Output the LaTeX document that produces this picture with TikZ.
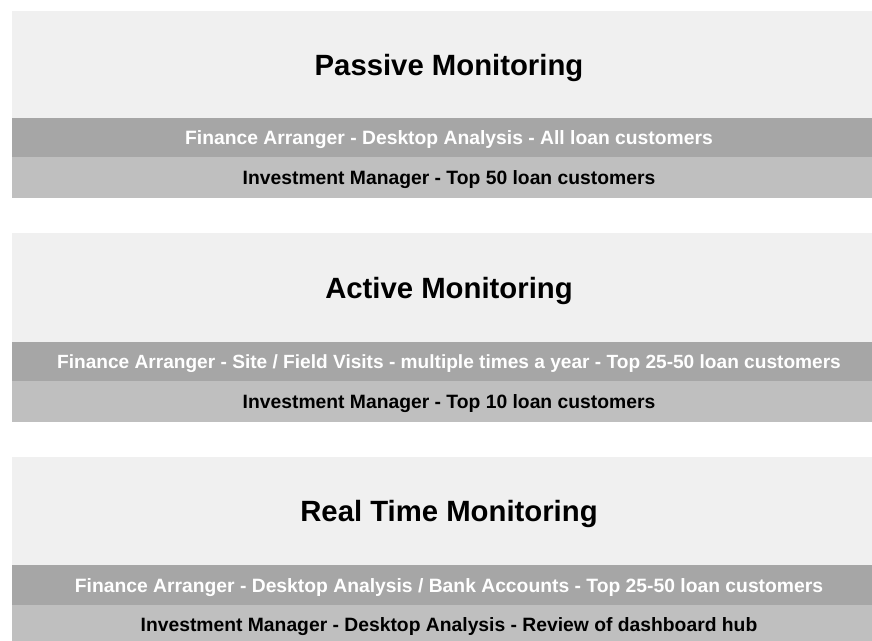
\documentclass[tikz,border=0pt]{standalone}
\usepackage{fontspec}
\setmainfont{Liberation Sans}
\usetikzlibrary{positioning}

\definecolor{paneback}{HTML}{F0F0F0}
\definecolor{fagray}{HTML}{A6A6A6}
\definecolor{imgray}{HTML}{BFBFBF}

\begin{document}
\begin{tikzpicture}[x=1pt,y=-1pt]

      \useasboundingbox (0,0) rectangle (872,640);
      \clip (0,0) rectangle (872,640);

      \begin{scope}[every node/.style={inner sep=0pt,outer sep=0pt,minimum width=874pt,text depth=0pt},
          titlebox/.style={fill=paneback,minimum height=107pt,font=\bfseries\fontsize{29.3}{34}\selectfont},
          fabar/.style={fill=fagray,text=white,minimum height=39pt,font=\bfseries\fontsize{19.3}{22}\selectfont},
          imbar/.style={fill=imgray,text=black,minimum height=41pt,font=\bfseries\fontsize{19.3}{22}\selectfont}]
        \node[titlebox,anchor=north west] (passive) at (12,11) {Passive Monitoring};
        \node[fabar,below=0pt of passive] (passivefa) {Finance Arranger - Desktop Analysis - All loan customers};
        \node[imbar,below=0pt of passivefa] (passiveim) {Investment Manager - Top 50 loan customers};

        \node[titlebox,anchor=north west,minimum height=109pt] (active) at (12,233) {Active Monitoring};
        \node[fabar,below=0pt of active,font=\bfseries\fontsize{19.1}{22}\selectfont] (activefa) {Finance Arranger - Site / Field Visits - multiple times a year - Top 25-50 loan customers};
        \node[imbar,below=0pt of activefa] (activeim) {Investment Manager - Top 10 loan customers};

        \node[titlebox,anchor=north west,minimum height=108pt] (realtime) at (12,457) {Real Time Monitoring};
        \node[fabar,below=0pt of realtime,minimum height=40pt] (realtimefa) {Finance Arranger - Desktop Analysis / Bank Accounts - Top 25-50 loan customers};
        \node[imbar,below=0pt of realtimefa,minimum height=38pt] (realtimeim) {Investment Manager - Desktop Analysis - Review of dashboard hub};
      \end{scope}

    \end{tikzpicture}
\end{document}
